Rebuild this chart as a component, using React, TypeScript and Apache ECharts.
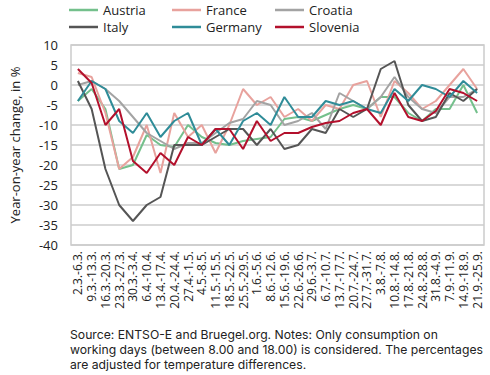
import React, { useEffect, useRef } from "react";
import * as echarts from "echarts";

const categories = [
  "2.3.-6.3.", "9.3.-13.3.", "16.3.-20.3.", "23.3.-27.3.", "30.3.-3.4.", "6.4.-10.4.",
  "13.4.-17.4.", "20.4.-24.4.", "27.4.-1.5.", "4.5.-8.5.", "11.5.-15.5.", "18.5.-22.5.",
  "25.5.-29.5.", "1.6.-5.6.", "8.6.-12.6.", "15.6.-19.6.", "22.6.-26.6.", "29.6.-3.7.",
  "6.7.-10.7.", "13.7.-17.7.", "20.7.-24.7.", "27.7.-31.7.", "3.8.-7.8.", "10.8.-14.8.",
  "17.8.-21.8.", "24.8.-28.8.", "31.8.-4.9.", "7.9.-11.9.", "14.9.-18.9.", "21.9.-25.9.",
];

const austria = [-4, -1, -6, -21, -20, -12.5, -15, -15.5, -10, -13, -14.5, -15, -14, -13.5, -13, -8.5, -8, -9, -7.5, -6, -5, -6, -3, -3, -7, -9, -6, -6, 0, -7];
const france = [3, 2, -7, -21, -18, -10, -22, -7, -13, -10, -17, -10, -1, -5, -3, -8, -6, -9, -5, -6, 0, 1, -8, 1, -2, -6, -4, 0, 4, -1];
const croatia = [0, 1, -1, -4, -8, -12, -14, -16, -14.5, -14.5, -12, -9.5, -8.5, -4, -5, -10, -9, -7, -11, -2, -4, -6, -3, 2, -3, -6, -7, -3, -3, -1];
const italy = [1, -6, -21, -30, -34, -30, -28, -15, -15, -15, -13, -11, -11, -15, -11, -16, -15, -11, -12, -6, -8, -6, 4, 6, -5, -9, -8, -2, -4, -1];
const germany = [-4, 1, -1, -9, -12, -7, -13, -9, -7, -15, -11, -15, -9, -7, -10, -3, -8, -8, -4, -5, -4, -6, -7, -1, -4, 0, -1, -3, 1, -2];
const slovenia = [4, 0.5, -10, -6, -19, -22, -17, -20, -13, -15, -11, -11, -16, -9, -14, -12, -12, -10.5, -9.5, -9, -7, -6, -10, -2, -8, -9, -6.5, -1, -2, -4];

const seriesNames = ["Austria", "France", "Croatia", "Italy", "Germany", "Slovenia"];
const seriesData = [austria, france, croatia, italy, germany, slovenia];
const seriesColors = ["#74c08c", "#e8a29d", "#a3a3a3", "#555555", "#2f8c98", "#b3102c"];

const footnote = [
  "Source: ENTSO-E and Bruegel.org. Notes: Only consumption on",
  "working days (between 8.00 and 18.00) is considered. The percentages",
  "are adjusted for temperature differences.",
];

const FONT = "'Open Sans', sans-serif";

export default function App() {
  const ref = useRef<HTMLDivElement>(null);
  useEffect(() => {
    if (!ref.current) return;
    const chart = echarts.init(ref.current, null, { renderer: "svg" });
    const legendCols = [
      [seriesNames[0], seriesNames[3]],
      [seriesNames[1], seriesNames[4]],
      [seriesNames[2], seriesNames[5]],
    ];
    const legendLefts = [69, 172, 275];
    chart.setOption({
      animation: false,
      backgroundColor: "#ffffff",
      legend: legendCols.map((d, i) => ({
        data: d,
        orient: "vertical",
        left: legendLefts[i],
        top: 3,
        icon: "rect",
        itemWidth: 29,
        itemHeight: 2.5,
        itemGap: 3,
        padding: 0,
        textStyle: { fontSize: 13, lineHeight: 14, color: "#222", fontFamily: FONT },
      })),
      grid: {
        left: 69,
        right: 6,
        top: 45,
        bottom: 130,
        show: true,
        borderColor: "#cccccc",
        borderWidth: 1.5,
      },
      xAxis: {
        type: "category",
        data: categories,
        boundaryGap: true,
        axisLine: { show: false },
        axisTick: { show: false },
        axisLabel: {
          rotate: 90,
          interval: 0,
          fontSize: 12,
          color: "#222",
          fontFamily: FONT,
          margin: 6,
        },
      },
      yAxis: {
        type: "value",
        min: -40,
        max: 10,
        interval: 5,
        name: "Year-on-year change, in %",
        nameLocation: "middle",
        nameGap: 50,
        nameTextStyle: { fontSize: 13, color: "#222", fontFamily: FONT },
        axisLine: { show: false },
        axisTick: { show: false },
        axisLabel: { fontSize: 13, color: "#222", fontFamily: FONT, margin: 13 },
        splitLine: { lineStyle: { color: "#cccccc", width: 1.5 } },
      },
      series: seriesNames.map((n, i) => ({
        name: n,
        type: "line",
        data: seriesData[i],
        symbol: "none",
        color: seriesColors[i],
        lineStyle: { width: 2, color: seriesColors[i] },
      })),
      graphic: [
        {
          type: "text",
          left: 70,
          top: 327,
          style: {
            text: footnote.join("\n"),
            fontSize: 12.2,
            lineHeight: 15,
            fill: "#222",
            fontFamily: "Inter, sans-serif",
          },
        },
      ],
    });
    return () => chart.dispose();
  }, []);
  return <div ref={ref} style={{ width: 490, height: 375, position: "absolute", left: 0, top: 0 }} />;
}
